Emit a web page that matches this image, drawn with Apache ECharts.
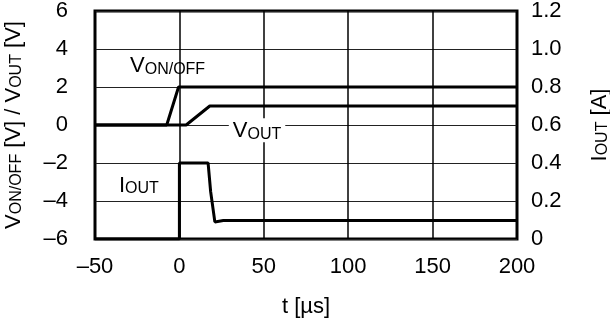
<!DOCTYPE html>
<html><head><meta charset="utf-8">
<script src="https://cdn.jsdelivr.net/npm/echarts@6/dist/echarts.min.js"></script>
<style>html,body{margin:0;padding:0;background:#fff}#c{width:610px;height:321px}</style>
</head><body><div id="c"></div>
<script>
// Data
const xTicks = [-50, 0, 50, 100, 150, 200];
const leftTicks = [-6, -4, -2, 0, 2, 4, 6];
const rightTicks = [0, 0.2, 0.4, 0.6, 0.8, 1.0, 1.2];
const vOnOff = [[-50, 0], [-7.5, 0], [-0.5, 2], [200, 2]];
const vOut = [[-50, 0], [4, 0], [18, 1], [200, 1]];
const iOut = [[-50, 0], [0, 0], [0, 0.4], [17, 0.4], [18.5, 0.25], [21, 0.09], [26, 0.097], [200, 0.098]];
const annotations = [
  {name: 'VON/OFF', big: 'V', small: 'ON/OFF', t: -7, v: 3.15, bg: false},
  {name: 'VOUT', big: 'V', small: 'OUT', t: 46, v: -0.27, bg: true},
  {name: 'IOUT', big: 'I', small: 'OUT', t: -24, v: -3.15, bg: false}
];

const FONT = '"Liberation Sans", Arial, sans-serif';
const dash = s => String(s).replace('-', '\u2013');
const rich = {
  b: {fontSize: 22, fontFamily: FONT, color: '#000', verticalAlign: 'bottom', lineHeight: 24},
  s: {fontSize: 16, fontFamily: FONT, color: '#000', verticalAlign: 'bottom', lineHeight: 20}
};
const tickFont = {fontSize: 22, fontFamily: FONT, color: '#000'};
const chart = echarts.init(document.getElementById('c'), null, {renderer: 'canvas'});
chart.setOption({
  animation: false,
  backgroundColor: '#fff',
  grid: {left: 95, right: 93, top: 11, bottom: 82, show: true, borderColor: '#000', borderWidth: 3,
    backgroundColor: '#fff', containLabel: false, outerBoundsMode: 'none'},
  xAxis: {
    type: 'value', min: xTicks[0], max: xTicks[xTicks.length - 1], interval: 50,
    axisLine: {show: false}, axisTick: {show: false},
    splitLine: {show: true, lineStyle: {color: '#000', width: 1.5}},
    axisLabel: Object.assign({margin: 17, formatter: v => dash(v)}, tickFont),
    name: 't [\u00b5s]', nameLocation: 'middle', nameGap: 57,
    nameTextStyle: tickFont
  },
  yAxis: [{
    type: 'value', min: leftTicks[0], max: leftTicks[leftTicks.length - 1], interval: 2,
    axisLine: {show: false}, axisTick: {show: false},
    splitLine: {show: true, lineStyle: {color: '#222', width: 1.2}},
    axisLabel: Object.assign({margin: 27, formatter: v => dash(v)}, tickFont),
    name: '{b|V}{s|ON/OFF}{b| [V] / V}{s|OUT}{b| [V]}', nameLocation: 'middle', nameGap: 70, nameRotate: 90,
    nameTextStyle: {rich: rich}
  }, {
    type: 'value', min: rightTicks[0], max: rightTicks[rightTicks.length - 1], interval: 0.2,
    axisLine: {show: false}, axisTick: {show: false}, splitLine: {show: false},
    axisLabel: Object.assign({margin: 14, formatter: v => v === 0 ? '0' : v.toFixed(1)}, tickFont),
    name: '{b|I}{s|OUT}{b| [A]}', nameLocation: 'middle', nameGap: 70, nameRotate: 90,
    nameTextStyle: {rich: rich}
  }],
  series: [
    {type: 'line', name: 'VON/OFF', yAxisIndex: 0, data: vOnOff, symbol: 'none', lineStyle: {color: '#000', width: 3}, z: 5},
    {type: 'line', name: 'VOUT', yAxisIndex: 0, data: vOut, symbol: 'none', lineStyle: {color: '#000', width: 3}, z: 5},
    {type: 'line', name: 'IOUT', yAxisIndex: 1, data: iOut, symbol: 'none', lineStyle: {color: '#000', width: 3}, z: 5},
    {type: 'scatter', yAxisIndex: 0, symbolSize: 0, z: 6, itemStyle: {opacity: 1, color: '#000'},
      data: annotations.map(a => ({value: [a.t, a.v], label: {
        show: true, position: 'inside', formatter: '{b|' + a.big + '}{s|' + a.small + '}', rich: rich,
        color: '#000', opacity: 1, textBorderWidth: 0,
        backgroundColor: a.bg ? '#fff' : 'transparent', padding: a.bg ? [0, 4] : 0
      }})),
      silent: true}
  ]
});
</script></body></html>
